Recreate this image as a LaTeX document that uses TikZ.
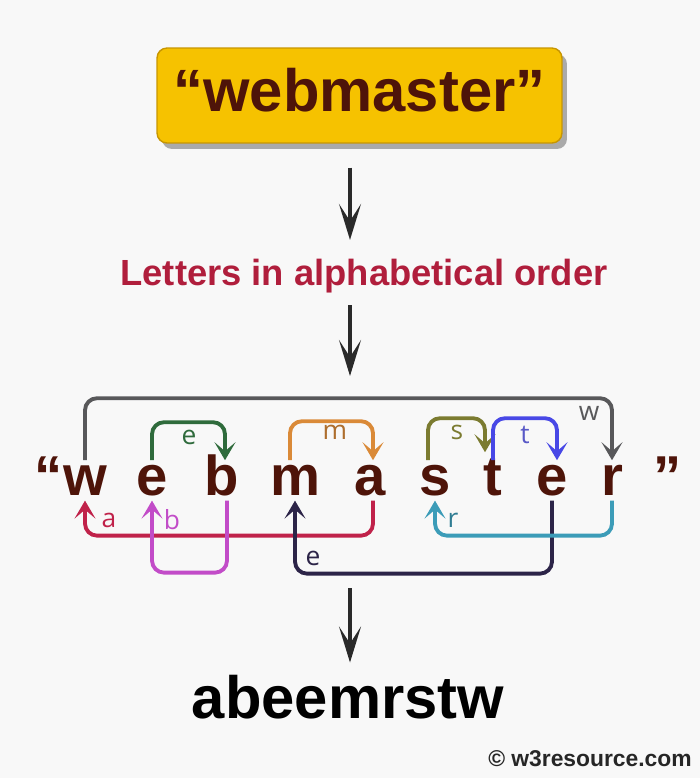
\documentclass[tikz,border=0pt]{standalone}
\usepackage{fontspec}
\setmainfont{Liberation Sans}
\newfontfamily\labelfont{Open Sans}
\usetikzlibrary{arrows.meta,shadows,calc}
\definecolor{bg}{HTML}{F8F8F8}
\definecolor{boxyellow}{HTML}{F6C200}
\definecolor{boxedge}{HTML}{C89600}
\definecolor{wordbrown}{HTML}{4E1409}
\definecolor{titlered}{HTML}{B01E3C}
\definecolor{arrowgray}{HTML}{2A2A2A}
\definecolor{lgray}{HTML}{58585A}
\definecolor{lgreen}{HTML}{2F6B3C}
\definecolor{lorange}{HTML}{DA8A38}
\definecolor{lolive}{HTML}{7B7B30}
\definecolor{lblue}{HTML}{4848E6}
\definecolor{lcrimson}{HTML}{C0224A}
\definecolor{lmagenta}{HTML}{C24CC8}
\definecolor{lnavy}{HTML}{2C2448}
\definecolor{lteal}{HTML}{3C9CB8}

\begin{document}
\begin{tikzpicture}[x=0.02cm,y=-0.02cm,
    letter/.style={font=\bfseries\fontsize{32}{36}\selectfont,text=wordbrown,inner xsep=0pt,inner ysep=3pt,text height=16.6pt,text depth=0pt,anchor=base},
    link/.style={line width=2.2pt,rounded corners=2.4mm,-{Stealth[length=3.6mm,width=4.2mm,inset=1.8mm]}},
    tag/.style={font=\labelfont\fontsize{15}{16}\selectfont},
    flow/.style={line width=2pt,draw=arrowgray,-{Stealth[length=7.2mm,width=4.4mm,inset=3.4mm]}}]
    \fill[bg] (0,0) rectangle (700,778);
    \useasboundingbox (0,0) rectangle (700,778);

    \node[rounded corners=2mm,fill=boxyellow,draw=boxedge,line width=0.8pt,minimum width=8.1cm,minimum height=1.9cm,
        drop shadow={shadow xshift=1mm,shadow yshift=-1.2mm,opacity=0.45,fill=black!70},
        font=\bfseries\fontsize{34}{40}\selectfont,text=wordbrown,text depth=6pt] (src) at (359.5,95.5) {“webmaster”};
    \node[font=\bfseries\fontsize{20.7}{24}\selectfont,text=titlered,anchor=base] (order) at (364,285) {Letters in alphabetical order};

    \node[letter] (ql) at (49,495) {“};
    \node[letter] (w) at (85,495) {w};
    \node[letter] (e) at (152,495) {e};
    \node[letter] (b) at (222,495) {b};
    \node[letter] (m) at (295,495) {m};
    \node[letter] (a) at (370,495) {a};
    \node[letter] (s) at (435,495) {s};
    \node[letter] (t) at (493,495) {t};
    \node[letter] (e2) at (552,495) {e};
    \node[letter] (r) at (612,495) {r};
    \node[letter] (qr) at (668,495) {”};

    \node[font=\bfseries\fontsize{34}{40}\selectfont,text=black,anchor=base] (sorted) at (348,718) {abeemrstw};
    \node[font=\bfseries\fontsize{13}{15}\selectfont,text=black!85,anchor=base] (copy) at (590,766) {© w3resource.com};

    \coordinate (rowin) at (350,376);
    \coordinate (rowout) at (350,588);
    \draw[flow,shorten <=4.8mm,shorten >=2.5mm] (src.south -| rowin) -- (order.north -| rowin);
    \draw[flow,shorten <=1.3mm] (order.south -| rowin) -- (rowin);
    \draw[flow,shorten >=1.2mm] (rowout) -- (sorted.north -| rowout);

    \draw[link,lgray] (w.north) -- ++(0,-62) -| (r.north);
    \draw[link,lgreen] (e.north) -- ++(0,-38) -| ($(b.north)+(3,0)$);
    \draw[link,lorange] ($(m.north)+(-5,0)$) -- ++(0,-39) -| ($(a.north)+(3,0)$);
    \draw[link,lolive] ($(s.north)+(-7,0)$) -- ++(0,-42) -| ($(t.north)+(-8,-8)$);
    \draw[link,lblue] (t.north) -- ++(0,-42) -| ($(e2.north)+(5,0)$);
    \draw[link,lcrimson] ($(a.south)+(3,0)$) -- ++(0,35) -| (w.south);
    \draw[link,lnavy] (e2.south) -- ++(0,73) -| (m.south);
    \draw[link,lmagenta] ($(b.south)+(5,0)$) -- ++(0,72) -| (e.south);
    \draw[link,lteal] (r.south) -- ++(0,35) -| (s.south);

    \node[tag,text=lgray] (tw) at (589,413) {w};
    \node[tag,text=lgreen] (te) at (189,437) {e};
    \node[tag,text=lorange!80!black] (tm) at (335,432) {m};
    \node[tag,text=lolive] (ts) at (457,432) {s};
    \node[tag,text=lblue!70!gray] (tt) at (525,435) {t};
    \node[tag,text=lcrimson] (ta) at (109,520) {a};
    \node[tag,text=lmagenta] (tb) at (172,520) {b};
    \node[tag,text=lnavy] (te2) at (313,558) {e};
    \node[tag,text=lteal!80!black] (tr) at (453,520) {r};
\end{tikzpicture}
\end{document}
